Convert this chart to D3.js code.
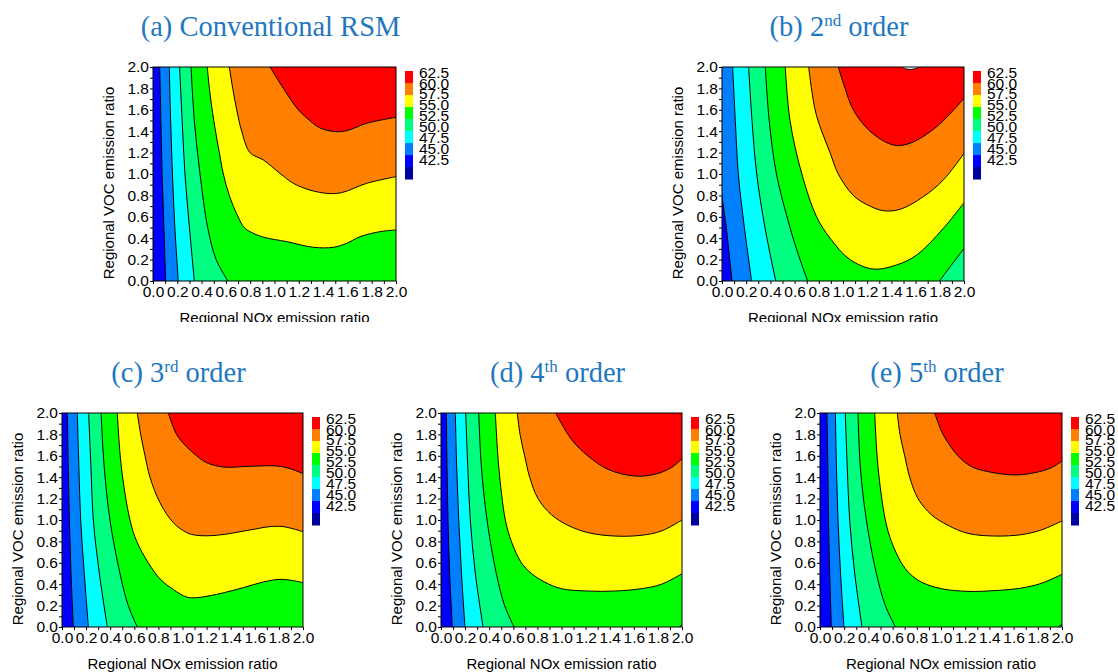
<!DOCTYPE html>
<html>
<head>
<meta charset="utf-8">
<script src="https://cdn.jsdelivr.net/npm/d3@7"></script>
<style>
  html, body { margin: 0; padding: 0; background: #fff; }
  svg { display: block; }
</style>
</head>
<body>
<svg id="chart" width="1118" height="672"></svg>
<script>
/* Five contour panels: O3 response vs regional NOx / VOC emission ratios.
 * Each contour line is stored as points (x = NOx, y = VOC).
 * `band` is the colour band of the region on the left of the line's travel
 * direction (the higher-value side). */

// ---- data ----------------------------------------------------------------
const levels = [42.5, 45.0, 47.5, 50.0, 52.5, 55.0, 57.5, 60.0, 62.5];
const axisTicks = [0.0, 0.2, 0.4, 0.6, 0.8, 1.0, 1.2, 1.4, 1.6, 1.8, 2.0];
const minorTicks = [0.1, 0.3, 0.5, 0.7, 0.9, 1.1, 1.3, 1.5, 1.7, 1.9];

const titleMain = ['(a) Conventional RSM', '(b) 2', '(c) 3', '(d) 4', '(e) 5'];
const titleSup = ['', 'nd', 'rd', 'th', 'th'];
const titleTail = ['', ' order', ' order', ' order', ' order'];
const baseBand = [1, 1, 1, 1, 1];

const contoursA = [
  { band: 2, pts: [[0.055, 2], [0.065, 1.5], [0.075, 1.0], [0.09, 0.5], [0.104, 0]] },
  { band: 3, pts: [[0.134, 2], [0.145, 1.5], [0.16, 1.0], [0.18, 0.5], [0.208, 0]] },
  { band: 4, pts: [[0.219, 2], [0.24, 1.5], [0.263, 1.0], [0.30, 0.5], [0.34, 0]] },
  { band: 5, pts: [[0.313, 2], [0.34, 1.5], [0.387, 1.0], [0.45, 0.5], [0.52, 0.2], [0.617, 0]] },
  { band: 6, pts: [[0.447, 2], [0.464, 1.8], [0.50, 1.5], [0.546, 1.2], [0.579, 1.0], [0.628, 0.8],
    [0.70, 0.6], [0.75, 0.5], [0.80, 0.46], [0.908, 0.41], [1.10, 0.368], [1.32, 0.315],
    [1.485, 0.315], [1.594, 0.352], [1.704, 0.414], [1.868, 0.461], [2.0, 0.477]] },
  { band: 7, pts: [[0.628, 2], [0.656, 1.8], [0.689, 1.6], [0.73, 1.4], [0.798, 1.2], [0.908, 1.131],
    [1.045, 1.006], [1.155, 0.913], [1.292, 0.85], [1.43, 0.819], [1.55, 0.825], [1.759, 0.913], [2.0, 0.975]] },
  { band: 8, pts: [[0.963, 2], [1.073, 1.8], [1.196, 1.6], [1.29, 1.5], [1.375, 1.43], [1.498, 1.396],
    [1.594, 1.405], [1.759, 1.474], [2.0, 1.53]] },
];

const contoursB = [
  { band: 2, pts: [[0, 0.79], [0.03, 0.55], [0.055, 0.3], [0.083, 0]] },
  { band: 3, pts: [[0.088, 2], [0.11, 1.5], [0.135, 1.0], [0.185, 0.5], [0.245, 0]] },
  { band: 4, pts: [[0.22, 2], [0.248, 1.5], [0.287, 1.0], [0.355, 0.5], [0.444, 0]] },
  { band: 5, pts: [[0.358, 2], [0.39, 1.5], [0.45, 1.0], [0.562, 0.5], [0.63, 0.25], [0.708, 0]] },
  { band: 6, pts: [[0.523, 2], [0.562, 1.5], [0.66, 1.0], [0.782, 0.6], [0.893, 0.4], [1.058, 0.2],
    [1.25, 0.112], [1.443, 0.15], [1.609, 0.243], [1.829, 0.492], [2.0, 0.732]] },
  { band: 7, pts: [[0.716, 2], [0.769, 1.6], [0.824, 1.4], [0.893, 1.2], [0.961, 1.0], [1.085, 0.8],
    [1.196, 0.715], [1.333, 0.657], [1.471, 0.67], [1.664, 0.788], [1.829, 0.944], [2.0, 1.193]] },
  { band: 8, pts: [[0.961, 2], [1.017, 1.8], [1.085, 1.6], [1.223, 1.4], [1.416, 1.271], [1.554, 1.287],
    [1.774, 1.442], [2.0, 1.707]] },
  { band: 4, pts: [[2.0, 0.305], [1.9, 0.155], [1.796, 0]] },
  { band: 9, pts: [[1.49, 2], [1.52, 1.982], [1.56, 1.978], [1.60, 1.985], [1.63, 2]] },
];

const contoursC = [
  { band: 2, pts: [[0.044, 2], [0.052, 1.5], [0.061, 1.0], [0.075, 0.5], [0.094, 0]] },
  { band: 3, pts: [[0.127, 2], [0.14, 1.5], [0.155, 1.0], [0.185, 0.5], [0.219, 0]] },
  { band: 4, pts: [[0.221, 2], [0.24, 1.5], [0.26, 1.0], [0.31, 0.5], [0.376, 0]] },
  { band: 5, pts: [[0.324, 2], [0.35, 1.5], [0.398, 1.0], [0.481, 0.5], [0.55, 0.2], [0.625, 0]] },
  { band: 6, pts: [[0.459, 2], [0.492, 1.5], [0.564, 1.0], [0.62, 0.8], [0.716, 0.6], [0.813, 0.45],
    [0.924, 0.35], [1.035, 0.28], [1.117, 0.274], [1.283, 0.305], [1.505, 0.368], [1.671, 0.421],
    [1.809, 0.445], [1.92, 0.433], [2.0, 0.414]] },
  { band: 7, pts: [[0.625, 2], [0.653, 1.8], [0.689, 1.6], [0.73, 1.4], [0.813, 1.162], [0.924, 0.975],
    [1.035, 0.882], [1.117, 0.857], [1.283, 0.857], [1.56, 0.907], [1.726, 0.938], [1.837, 0.938], [2.0, 0.891]] },
  { band: 8, pts: [[0.882, 2], [0.951, 1.8], [1.021, 1.7], [1.118, 1.6], [1.2, 1.536], [1.339, 1.495],
    [1.56, 1.502], [1.781, 1.505], [1.892, 1.48], [2.0, 1.433]] },
];

const contoursD = [
  { band: 2, pts: [[0.044, 2], [0.05, 1.5], [0.058, 1.0], [0.072, 0.5], [0.094, 0]] },
  { band: 3, pts: [[0.119, 2], [0.13, 1.5], [0.147, 1.0], [0.17, 0.5], [0.199, 0]] },
  { band: 4, pts: [[0.205, 2], [0.222, 1.5], [0.243, 1.0], [0.285, 0.5], [0.349, 0]] },
  { band: 5, pts: [[0.313, 2], [0.335, 1.5], [0.382, 1.0], [0.459, 0.5], [0.528, 0.2], [0.606, 0]] },
  { band: 6, pts: [[0.451, 2], [0.479, 1.5], [0.534, 1.0], [0.584, 0.8], [0.667, 0.6], [0.75, 0.5],
    [0.86, 0.42], [0.999, 0.358], [1.22, 0.336], [1.441, 0.336], [1.662, 0.358], [1.828, 0.399], [2.0, 0.498]] },
  { band: 7, pts: [[0.633, 2], [0.656, 1.8], [0.694, 1.6], [0.736, 1.4], [0.805, 1.2], [0.916, 1.05],
    [1.054, 0.95], [1.22, 0.882], [1.441, 0.85], [1.662, 0.857], [1.828, 0.897], [2.0, 1.0]] },
  { band: 8, pts: [[0.952, 2], [1.082, 1.754], [1.22, 1.598], [1.386, 1.473], [1.607, 1.411],
    [1.773, 1.427], [1.911, 1.489], [2.0, 1.573]] },
  { band: 4, pts: [[2.0, 0.025], [1.98, 0]] },
];

const contoursE = [
  { band: 2, pts: [[0.058, 2], [0.065, 1.5], [0.07, 1.0], [0.08, 0.5], [0.094, 0]] },
  { band: 3, pts: [[0.127, 2], [0.136, 1.5], [0.149, 1.0], [0.17, 0.5], [0.198, 0]] },
  { band: 4, pts: [[0.209, 2], [0.225, 1.5], [0.245, 1.0], [0.287, 0.5], [0.347, 0]] },
  { band: 5, pts: [[0.314, 2], [0.333, 1.5], [0.383, 1.0], [0.466, 0.5], [0.54, 0.2], [0.623, 0]] },
  { band: 6, pts: [[0.452, 2], [0.479, 1.5], [0.54, 1.0], [0.59, 0.8], [0.672, 0.6], [0.741, 0.5],
    [0.837, 0.42], [1.003, 0.358], [1.223, 0.333], [1.443, 0.34], [1.664, 0.364], [1.829, 0.408], [2.0, 0.492]] },
  { band: 7, pts: [[0.639, 2], [0.661, 1.8], [0.70, 1.6], [0.741, 1.4], [0.81, 1.2], [0.92, 1.05],
    [1.058, 0.95], [1.223, 0.875], [1.443, 0.85], [1.664, 0.863], [1.829, 0.907], [2.0, 0.991]] },
  { band: 8, pts: [[0.948, 2], [1.017, 1.8], [1.14, 1.6], [1.25, 1.5], [1.388, 1.452], [1.609, 1.421],
    [1.774, 1.442], [1.912, 1.489], [2.0, 1.551]] },
  { band: 4, pts: [[2.0, 0.025], [1.967, 0]] },
];

// ---- style / layout ------------------------------------------------------
const bandColors = ['#00009f', '#0000ff', '#0080ff', '#00ffff', '#00ff80',
                    '#00ff00', '#ffff00', '#ff8000', '#ff0000', '#ffffff'];
const SANS = '"Liberation Sans", Arial, sans-serif';
const SERIF = '"Liberation Serif", "Times New Roman", serif';
const TITLE_COLOR = '#1f78bf';

const panels = [
  { box: { left: 153, top: 67, width: 243, height: 214 }, lines: contoursA, clipY: 322 },
  { box: { left: 722, top: 67, width: 242, height: 214 }, lines: contoursB, clipY: 322 },
  { box: { left: 62, top: 413, width: 241, height: 214 }, lines: contoursC, clipY: 672 },
  { box: { left: 441, top: 413, width: 241, height: 214 }, lines: contoursD, clipY: 672 },
  { box: { left: 820, top: 413, width: 242, height: 214 }, lines: contoursE, clipY: 672 },
];

const svg = d3.select('#chart');
const fmt = d3.format('.1f');

// position of a boundary point along the plot perimeter (clockwise from top-left)
function perim([px, py]) {
  const eps = 1e-6;
  if (py >= 2 - eps) return px / 2;
  if (px >= 2 - eps) return 1 + (2 - py) / 2;
  if (py <= eps) return 2 + (2 - px) / 2;
  return 3 + py / 2;
}
const cornerPts = [[0, 2], [2, 2], [2, 0], [0, 0]];

panels.forEach((p, i) => {
  const { left, top, width, height } = p.box;
  const x = d3.scaleLinear().domain([0, 2]).range([left, left + width]);
  const y = d3.scaleLinear().domain([0, 2]).range([top + height, top]);
  const curve = d3.line().x((d) => x(d[0])).y((d) => y(d[1])).curve(d3.curveCatmullRom.alpha(0.5));

  const clipId = 'clip-' + i;
  svg.append('clipPath').attr('id', clipId)
    .append('rect').attr('x', left).attr('y', top).attr('width', width).attr('height', height);

  const plot = svg.append('g').attr('clip-path', `url(#${clipId})`);
  plot.append('rect')
    .attr('x', x(0)).attr('y', y(2))
    .attr('width', x(2) - x(0)).attr('height', y(0) - y(2))
    .attr('fill', bandColors[baseBand[i]]);

  // filled regions: contour curve, then back along the frame to the start
  for (const c of p.lines) {
    const s = perim(c.pts[0]);
    const e = perim(c.pts[c.pts.length - 1]);
    const target = s <= e ? s : s - 4;
    let d = curve(c.pts);
    for (let k = Math.ceil(e) - 1; k > target; k--) {
      const cp = cornerPts[((k % 4) + 4) % 4];
      d += `L${x(cp[0])},${y(cp[1])}`;
    }
    plot.append('path').attr('d', d + 'Z').attr('fill', bandColors[c.band]);
  }
  for (const c of p.lines) {
    plot.append('path').attr('d', curve(c.pts))
      .attr('fill', 'none').attr('stroke', '#000').attr('stroke-width', 1);
  }

  // frame
  svg.append('rect')
    .attr('x', x(0)).attr('y', y(2))
    .attr('width', x(2) - x(0)).attr('height', y(0) - y(2))
    .attr('fill', 'none').attr('stroke', '#000').attr('stroke-width', 1);

  // axes
  const xAxis = svg.append('g').attr('transform', `translate(0,${y(0)})`)
    .call(d3.axisBottom(x).tickValues(axisTicks).tickFormat(fmt).tickSize(3).tickPadding(2));
  svg.append('g').attr('transform', `translate(0,${y(0)})`)
    .call(d3.axisBottom(x).tickValues(minorTicks).tickFormat('').tickSize(3));
  const yAxis = svg.append('g').attr('transform', `translate(${x(0)},0)`)
    .call(d3.axisLeft(y).tickValues(axisTicks).tickFormat(fmt).tickSize(3).tickPadding(1));
  svg.append('g').attr('transform', `translate(${x(0)},0)`)
    .call(d3.axisLeft(y).tickValues(minorTicks).tickFormat('').tickSize(3));
  svg.selectAll('.domain').remove();
  [xAxis, yAxis].forEach((a) => a.selectAll('text')
    .attr('font-family', SANS).attr('font-size', 15.5).attr('fill', '#000'));
  svg.selectAll('.tick line').attr('stroke', '#000');

  // axis titles
  svg.append('text')
    .attr('transform', `translate(${x(0) - 39.5},${(y(0) + y(2)) / 2 + 9}) rotate(-90)`)
    .attr('text-anchor', 'middle')
    .attr('font-family', SANS).attr('font-size', 15)
    .text('Regional VOC emission ratio');

  const tClip = 'tclip-' + i;
  svg.append('clipPath').attr('id', tClip)
    .append('rect').attr('x', left - 60).attr('y', top).attr('width', width + 120).attr('height', p.clipY - top);
  svg.append('text')
    .attr('clip-path', `url(#${tClip})`)
    .attr('x', (x(0) + x(2)) / 2).attr('y', y(0) + 42)
    .attr('text-anchor', 'middle')
    .attr('font-family', SANS).attr('font-size', 15)
    .text('Regional NOx emission ratio');

  // panel title
  const t = svg.append('text')
    .attr('x', (x(0) + x(2)) / 2 - 4).attr('y', top - 31)
    .attr('text-anchor', 'middle')
    .attr('font-family', SERIF).attr('font-size', 28.5).attr('fill', TITLE_COLOR);
  t.append('tspan').text(titleMain[i]);
  if (titleSup[i]) {
    t.append('tspan').attr('dy', -10).attr('font-size', 17).text(titleSup[i]);
    t.append('tspan').attr('dy', 10).text(titleTail[i]);
  }

  // colour bar
  const desc = levels.slice().reverse();
  const barX = x(2) + 9;
  const yb = d3.scaleBand().domain(desc).range([top + 4, top + 112]);
  svg.append('g').selectAll('rect').data(desc).join('rect')
    .attr('x', barX).attr('y', (d) => yb(d))
    .attr('width', 8).attr('height', yb.bandwidth() + 0.5)
    .attr('fill', (d) => bandColors[levels.indexOf(d)]);
  const yl = d3.scalePoint().domain(desc).range([top + 5.3, top + 92]);
  svg.append('g').selectAll('text').data(desc).join('text')
    .attr('x', barX + 14).attr('y', (d) => yl(d) + 5.5)
    .attr('font-family', SANS).attr('font-size', 15.5)
    .text((d) => fmt(d));
});
</script>
</body>
</html>
